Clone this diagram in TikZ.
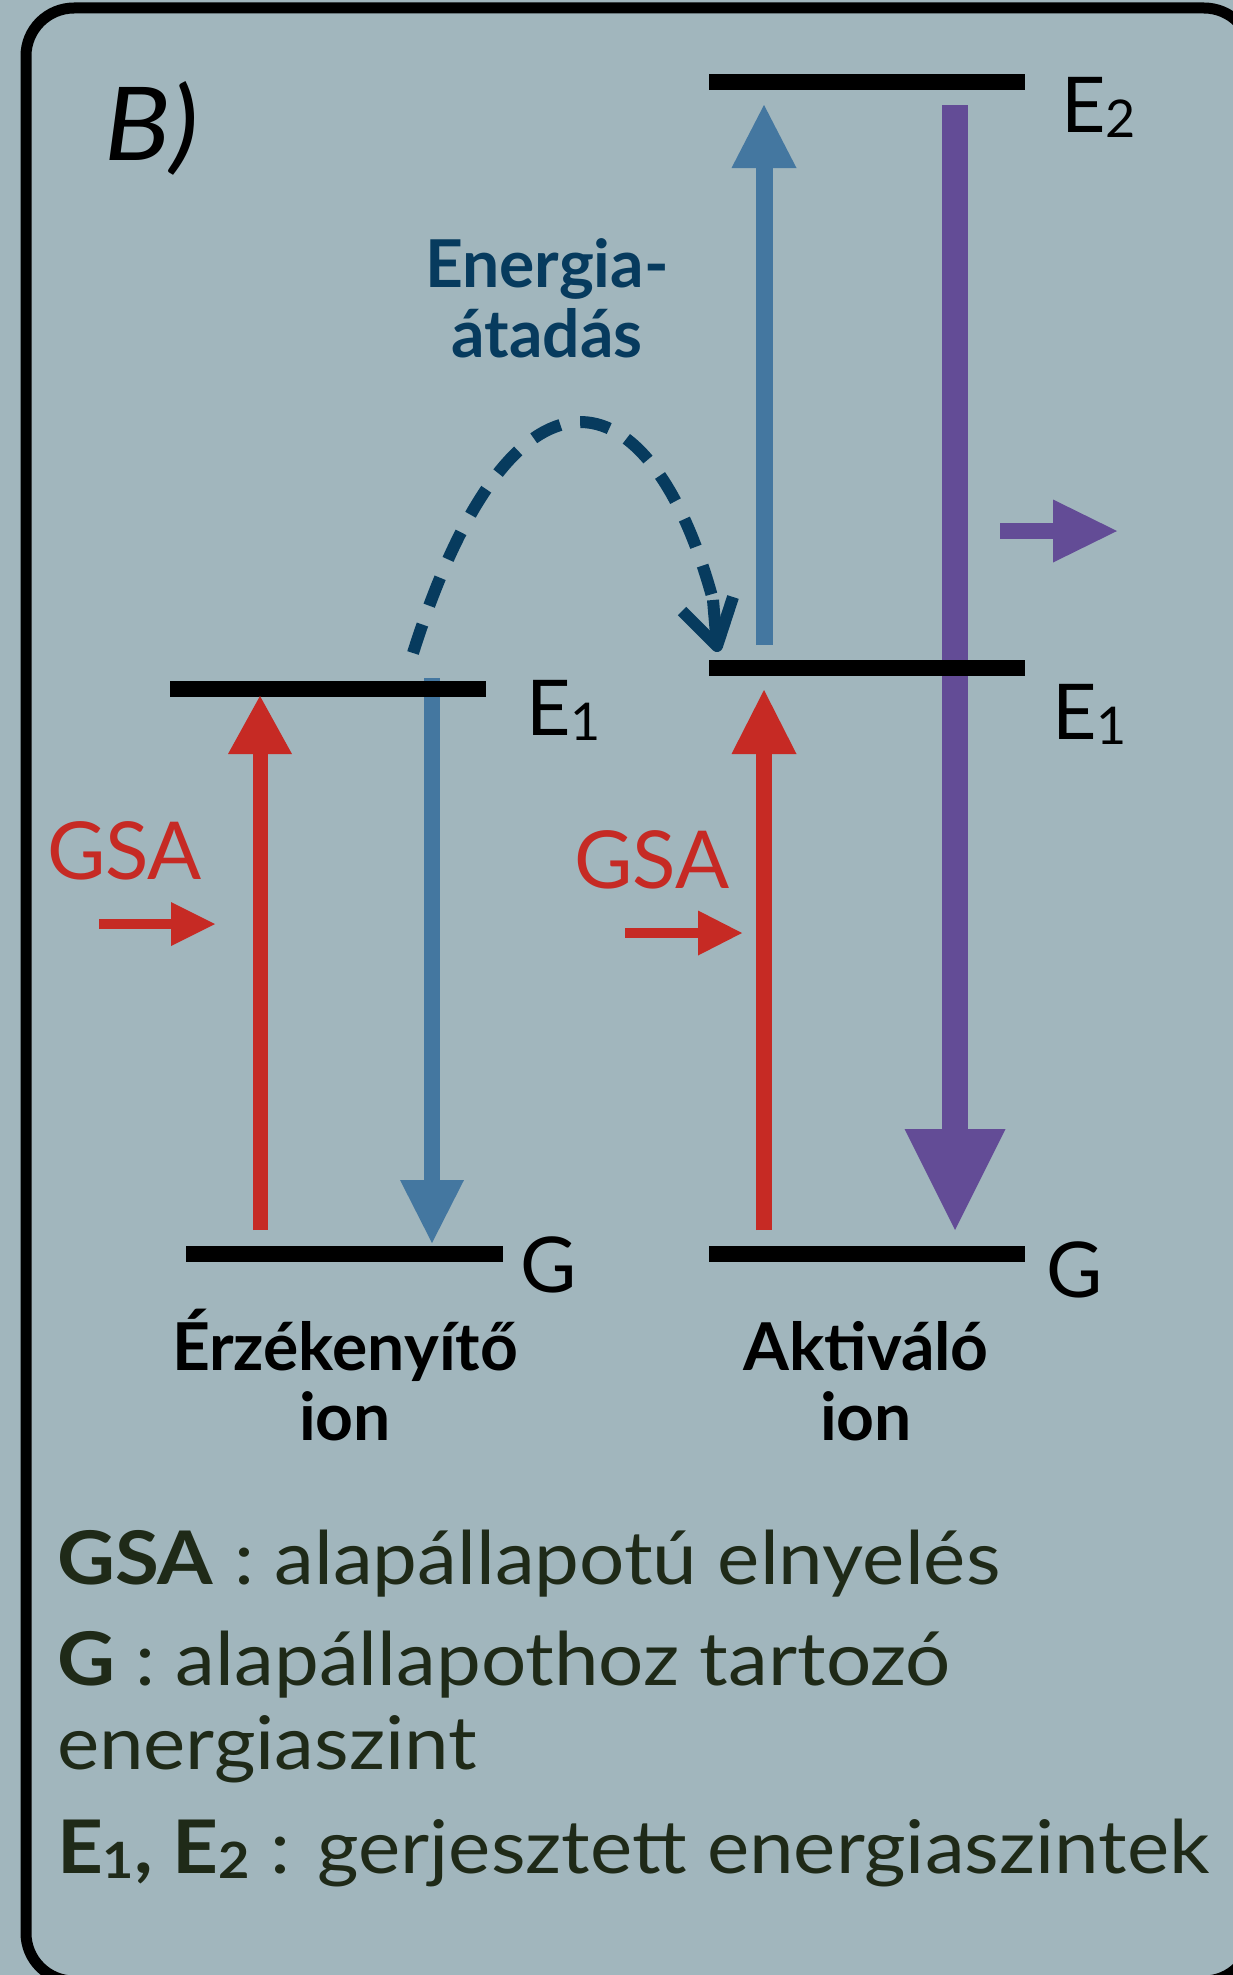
\documentclass[tikz,border=0pt]{standalone}
\usepackage{fontspec}
\setmainfont{Lato}
\newfontfamily\widefont{Lato}[FakeStretch=1.08]
\usetikzlibrary{arrows.meta}
\definecolor{bgc}{RGB}{161,182,189}
\definecolor{redc}{RGB}{198,42,36}
\definecolor{bluec}{RGB}{68,119,160}
\definecolor{purc}{RGB}{99,76,150}
\definecolor{navyc}{RGB}{7,59,94}
\definecolor{legc}{RGB}{31,42,24}
\newcommand\myfs[1]{\fontsize{#1}{#1}\selectfont}
\newcommand\lvsub[1]{\raisebox{-5pt}{\myfs{52}#1}}
\newcommand\lgsub[1]{\raisebox{-5pt}{\myfs{50}#1}}
\begin{document}
\begin{tikzpicture}[x=1pt,y=-1pt,
  lvl/.style={line width=16pt, draw=black},
  tiphead/.style 2 args={-{Triangle[length=#1pt,width=#2pt,line width=0pt]}},
  txt/.style={inner sep=0pt, outer sep=0pt},
  lvlab/.style={txt, anchor=base west, font=\myfs{77}},
  ionlab/.style={txt, anchor=base, align=center, font=\myfs{66}\bfseries,
    execute at begin node=\setlength{\baselineskip}{70pt}},
  leg/.style={txt, anchor=base west, text=legc, font=\widefont\myfs{74}},
  transfer/.style={navyc, line width=12pt}]
\useasboundingbox (0,0) rectangle (1233,1975);
\fill[bgc] (0,0) rectangle (1233,1975);
\draw[line width=11pt, rounded corners=48pt] (26,8) rectangle (1252,1981);

% title
\node[txt, anchor=base west] (title) at (104,160) {\widefont\myfs{102}\itshape B)};

% energy levels
\coordinate (LE1a) at (170,689); \coordinate (LE1b) at (486,689);
\coordinate (LGa) at (186,1254); \coordinate (LGb) at (503,1254);
\coordinate (RE2a) at (709,82); \coordinate (RE2b) at (1025,82);
\coordinate (RE1a) at (709,668); \coordinate (RE1b) at (1025,668);
\coordinate (RGa) at (709,1254); \coordinate (RGb) at (1025,1254);

% transitions
\coordinate (Lr0) at (260,1230); \coordinate (Lr1) at (260,696);
\coordinate (Lb0) at (432,678);  \coordinate (Lb1) at (432,1243);
\coordinate (Rr0) at (764,1230); \coordinate (Rr1) at (764,690);
\coordinate (Rb0) at (764,645);  \coordinate (Rb1) at (764,105);
\coordinate (Rp0) at (955,105);  \coordinate (Rp1) at (955,1230);
\coordinate (Lg0) at (99,924);   \coordinate (Lg1) at (215,924);
\coordinate (Rg0) at (625,933);  \coordinate (Rg1) at (742,933);
\coordinate (Pp0) at (1000,531); \coordinate (Pp1) at (1117,531);
\coordinate (D0) at (413,653);   \coordinate (D1) at (717,646);
\coordinate (DS) at (713,600);
\coordinate (ArmL) at (682,611); \coordinate (ArmR) at (733,597);

\draw[bluec, line width=16pt, tiphead={63}{64}] (Lb0) -- (Lb1);
\draw[purc, line width=26pt, tiphead={101}{101}] (Rp0) -- (Rp1);
\draw[lvl] (LE1a) -- (LE1b);
\draw[lvl] (LGa) -- (LGb);
\draw[lvl] (RE2a) -- (RE2b);
\draw[lvl] (RE1a) -- (RE1b);
\draw[lvl] (RGa) -- (RGb);
\draw[redc, line width=15pt, tiphead={58}{64}] (Lr0) -- (Lr1);
\draw[redc, line width=16pt, tiphead={64}{65}] (Rr0) -- (Rr1);
\draw[bluec, line width=17pt, tiphead={63}{65}] (Rb0) -- (Rb1);
\draw[redc, line width=10pt, tiphead={44}{44}] (Lg0) -- (Lg1);
\draw[redc, line width=10pt, tiphead={44}{45}] (Rg0) -- (Rg1);
\draw[purc, line width=16pt, tiphead={64}{63}] (Pp0) -- (Pp1);

% energy transfer
\draw[transfer, dash pattern=on 30pt off 20pt]
  (D0) .. controls (512,340) and (650,368) .. (DS);
\draw[transfer] (DS) -- (D1);
\draw[transfer, line join=round] (ArmL) -- (D1) -- (ArmR);
\node[txt, anchor=base, align=center, text=navyc, font=\myfs{66}\bfseries,
  execute at begin node=\setlength{\baselineskip}{70pt}] (transferlab) at (547,357) {Energia-\\átadás};

% level labels
\node[lvlab] (lE2) at (1061,132) {E\lvsub{2}};
\node[lvlab] (lE1L) at (526,735) {E\lvsub{1}};
\node[lvlab] (lE1R) at (1052,739) {E\lvsub{1}};
\node[lvlab] (lGL) at (520,1292) {G};
\node[lvlab] (lGR) at (1046,1297) {G};

\node[txt, anchor=base west, text=redc, font=\myfs{80}] (gsaL) at (47,879) {GSA};
\node[txt, anchor=base east, text=redc, font=\myfs{80}] (gsaR) at (729,888) {GSA};

\node[ionlab] (sens) at (345,1440) {Érzékenyítő\\ion};
\node[ionlab] (act) at (866,1440) {Aktiváló\\ion};

% legend
\node[leg] (leg1) at (57,1584) {\textbf{GSA} : alapállapotú elnyelés};
\node[leg] (leg2) at (57,1685) {\textbf{G} : alapállapothoz tartozó};
\node[leg] (leg3) at (57,1769) {energiaszint};
\node[leg] (leg4) at (57,1873) {\textbf{E\lgsub{1}, E\lgsub{2}} : gerjesztett energiaszintek};
\end{tikzpicture}
\end{document}
